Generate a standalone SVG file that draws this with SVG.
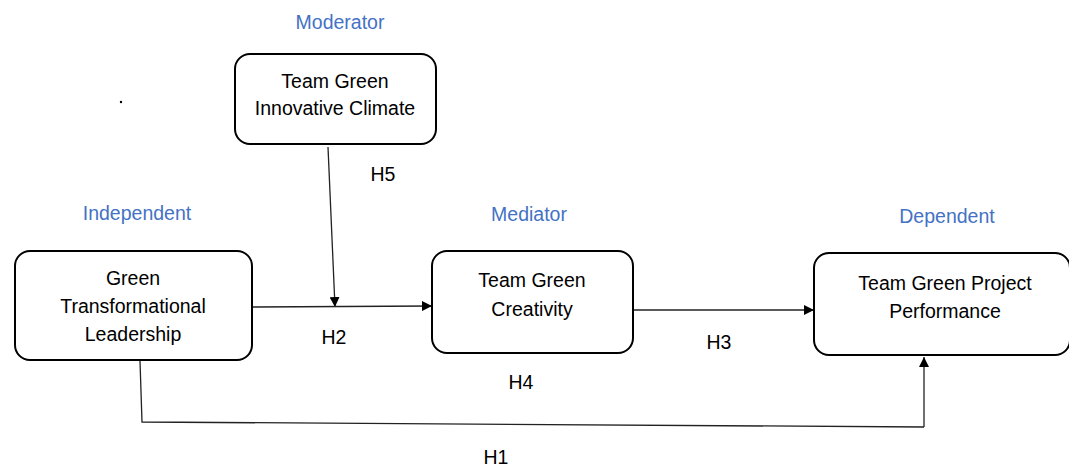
<svg xmlns="http://www.w3.org/2000/svg" width="1069" height="469" viewBox="0 0 1069 469">
<style>
.box{fill:#fff;stroke:#000;stroke-width:2}
.t{font-family:"Liberation Sans",Arial,sans-serif;font-size:19.5px;fill:#000;text-anchor:middle;dominant-baseline:central}
.lbl{font-family:"Liberation Sans",Arial,sans-serif;font-size:19.5px;fill:#4472C4;text-anchor:middle;dominant-baseline:central}
.c{fill:none;stroke:#222;stroke-width:1.3}
</style>
<defs>
<marker id="ah" viewBox="0 0 10 10" refX="10" refY="5" markerWidth="10" markerHeight="10" markerUnits="userSpaceOnUse" orient="auto">
<path d="M0,0 L10,5 L0,10 Z" fill="#000"/>
</marker>
</defs>
<rect width="1069" height="469" fill="#fff"/>
<text class="lbl" x="340" y="22">Moderator</text>
<text class="lbl" x="137" y="213">Independent</text>
<text class="lbl" x="529" y="214">Mediator</text>
<text class="lbl" x="947" y="216">Dependent</text>
<circle cx="121" cy="102" r="1.2" fill="#000"/>
<g id="connectors">
<line class="c" x1="328" y1="147" x2="335" y2="307" marker-end="url(#ah)"/>
<line class="c" x1="253" y1="307" x2="432" y2="306" marker-end="url(#ah)"/>
<line class="c" x1="633" y1="310" x2="814" y2="310" marker-end="url(#ah)"/>
<polyline class="c" points="140,361 142,422 924,427"/>
<line class="c" x1="924" y1="427" x2="924" y2="357" marker-end="url(#ah)"/>
</g>
<g id="labels">
<text class="t" x="383" y="174">H5</text>
<text class="t" x="334" y="337">H2</text>
<text class="t" x="719" y="342">H3</text>
<text class="t" x="521" y="382">H4</text>
<text class="t" x="496" y="457">H1</text>
</g>
<g id="moderator">
<rect class="box" x="235" y="54" width="201" height="90" rx="15"/>
<text class="t" x="335" y="81">Team Green</text>
<text class="t" x="335" y="108">Innovative Climate</text>
</g>
<g id="independent">
<rect class="box" x="15" y="251" width="237" height="109" rx="15"/>
<text class="t" x="133" y="278">Green</text>
<text class="t" x="133" y="306">Transformational</text>
<text class="t" x="133" y="334">Leadership</text>
</g>
<g id="mediator">
<rect class="box" x="432" y="251" width="201" height="102" rx="15"/>
<text class="t" x="532" y="280">Team Green</text>
<text class="t" x="532" y="309">Creativity</text>
</g>
<g id="dependent">
<rect class="box" x="814" y="253" width="256" height="102" rx="15"/>
<text class="t" x="945" y="283">Team Green Project</text>
<text class="t" x="945" y="311">Performance</text>
</g>
</svg>
